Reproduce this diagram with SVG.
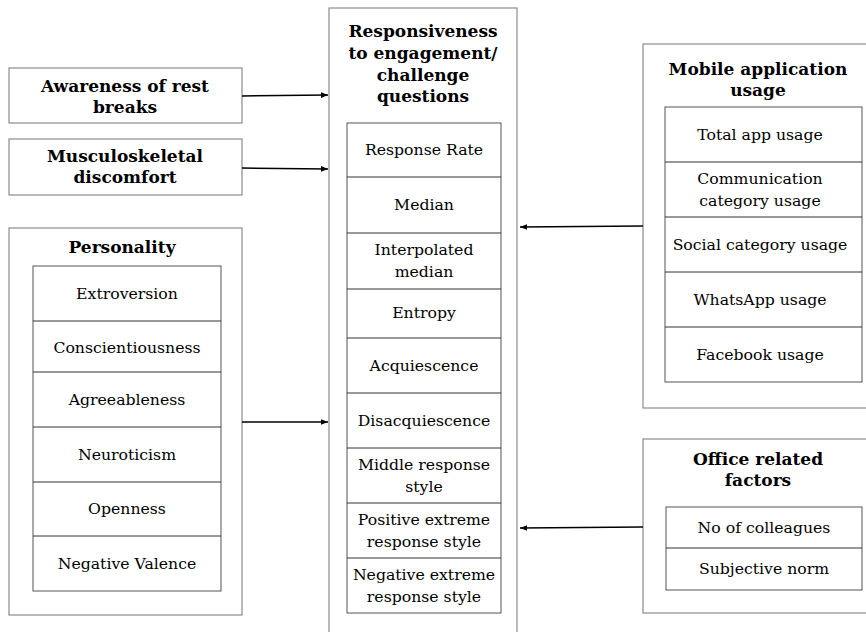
<svg xmlns="http://www.w3.org/2000/svg" width="866" height="632" viewBox="0 0 866 632">
<defs>
<marker id="ah" viewBox="0 0 10 10" refX="10" refY="5" markerWidth="7" markerHeight="7" markerUnits="userSpaceOnUse" orient="auto"><path d="M0,1 L10,5 L0,9 z" fill="#000"/></marker>
<style>
.outer{fill:#fff;stroke:#8c8c8c;stroke-width:1.2}
.inner{fill:#fff;stroke:#555;stroke-width:1}
.sep{stroke:#333;stroke-width:1}
text{font-family:"DejaVu Serif","Liberation Serif",serif;fill:#000;text-anchor:middle}
.t{font-size:17px;font-weight:bold}
.b{font-size:15.7px}
.conn{stroke:#000;stroke-width:1.5;fill:none;marker-end:url(#ah)}
</style>
</defs>
<rect width="866" height="632" fill="#fff"/>

<g id="center">
<rect class="outer" x="329" y="8" width="188" height="640"/>
<text class="t" x="423" y="37">Responsiveness</text>
<text class="t" x="423" y="59">to engagement/</text>
<text class="t" x="423" y="81">challenge</text>
<text class="t" x="423" y="102">questions</text>
<rect class="inner" x="347" y="123" width="154" height="490"/>
<line class="sep" x1="347" y1="177" x2="501" y2="177"/>
<line class="sep" x1="347" y1="233" x2="501" y2="233"/>
<line class="sep" x1="347" y1="289" x2="501" y2="289"/>
<line class="sep" x1="347" y1="338" x2="501" y2="338"/>
<line class="sep" x1="347" y1="393" x2="501" y2="393"/>
<line class="sep" x1="347" y1="448" x2="501" y2="448"/>
<line class="sep" x1="347" y1="503" x2="501" y2="503"/>
<line class="sep" x1="347" y1="558" x2="501" y2="558"/>
<text class="b" x="424" y="155">Response Rate</text>
<text class="b" x="424" y="210">Median</text>
<text class="b" x="424" y="255">Interpolated</text>
<text class="b" x="424" y="277">median</text>
<text class="b" x="424" y="318">Entropy</text>
<text class="b" x="424" y="371">Acquiescence</text>
<text class="b" x="424" y="426">Disacquiescence</text>
<text class="b" x="424" y="470">Middle response</text>
<text class="b" x="424" y="492">style</text>
<text class="b" x="424" y="525">Positive extreme</text>
<text class="b" x="424" y="547">response style</text>
<text class="b" x="424" y="580">Negative extreme</text>
<text class="b" x="424" y="602">response style</text>
</g>

<g id="awareness">
<rect class="outer" x="9" y="68" width="233" height="55"/>
<text class="t" x="125" y="92">Awareness of rest</text>
<text class="t" x="125" y="113">breaks</text>
</g>

<g id="msd">
<rect class="outer" x="9" y="139" width="233" height="56"/>
<text class="t" x="125" y="162">Musculoskeletal</text>
<text class="t" x="125" y="183">discomfort</text>
</g>

<g id="personality">
<rect class="outer" x="9" y="228" width="233" height="387"/>
<text class="t" x="122" y="253">Personality</text>
<rect class="inner" x="33" y="266" width="188" height="325"/>
<line class="sep" x1="33" y1="321" x2="221" y2="321"/>
<line class="sep" x1="33" y1="372" x2="221" y2="372"/>
<line class="sep" x1="33" y1="427" x2="221" y2="427"/>
<line class="sep" x1="33" y1="482" x2="221" y2="482"/>
<line class="sep" x1="33" y1="536" x2="221" y2="536"/>
<text class="b" x="127" y="299">Extroversion</text>
<text class="b" x="127" y="353">Conscientiousness</text>
<text class="b" x="127" y="405">Agreeableness</text>
<text class="b" x="127" y="460">Neuroticism</text>
<text class="b" x="127" y="514">Openness</text>
<text class="b" x="127" y="569">Negative Valence</text>
</g>

<g id="mobile">
<rect class="outer" x="643" y="44" width="240" height="364"/>
<text class="t" x="758" y="75">Mobile application</text>
<text class="t" x="758" y="96">usage</text>
<rect class="inner" x="665" y="107" width="197" height="275"/>
<line class="sep" x1="665" y1="162" x2="862" y2="162"/>
<line class="sep" x1="665" y1="217" x2="862" y2="217"/>
<line class="sep" x1="665" y1="272" x2="862" y2="272"/>
<line class="sep" x1="665" y1="327" x2="862" y2="327"/>
<text class="b" x="760" y="140">Total app usage</text>
<text class="b" x="760" y="184">Communication</text>
<text class="b" x="760" y="206">category usage</text>
<text class="b" x="760" y="250">Social category usage</text>
<text class="b" x="760" y="305">WhatsApp usage</text>
<text class="b" x="760" y="360">Facebook usage</text>
</g>

<g id="office">
<rect class="outer" x="643" y="439" width="240" height="174"/>
<text class="t" x="758" y="465">Office related</text>
<text class="t" x="758" y="486">factors</text>
<rect class="inner" x="666" y="507" width="196" height="83"/>
<line class="sep" x1="666" y1="548" x2="862" y2="548"/>
<text class="b" x="764" y="533">No of colleagues</text>
<text class="b" x="764" y="574">Subjective norm</text>
</g>

<g id="connectors">
<line class="conn" x1="242" y1="96" x2="328" y2="95"/>
<line class="conn" x1="242" y1="168" x2="328" y2="169"/>
<line class="conn" x1="242" y1="422" x2="328" y2="422"/>
<line class="conn" x1="643" y1="226" x2="520" y2="227"/>
<line class="conn" x1="643" y1="527" x2="520" y2="528"/>
</g>
</svg>
